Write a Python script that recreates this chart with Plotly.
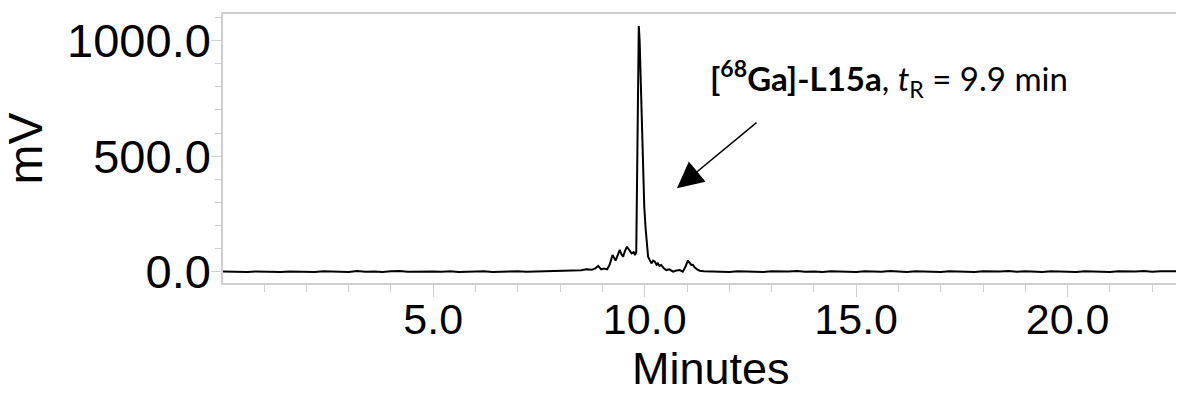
import plotly.graph_objects as go

# Retention time (minutes)
time_min = [
    0.0, 0.2, 0.4, 0.6, 0.8, 1.0, 1.2, 1.4, 1.6, 1.8, 2.0, 2.2, 2.4, 2.6, 2.8,
    3.0, 3.2, 3.4, 3.6, 3.8, 4.0, 4.2, 4.4, 4.6, 4.8, 5.0, 5.2, 5.4, 5.6, 5.8,
    6.0, 6.2, 6.4, 6.6, 6.8, 7.0, 7.2, 7.4, 7.6, 7.8, 8.0, 8.2,
    8.35, 8.5, 8.62, 8.75, 8.83, 8.90, 8.97, 9.04, 9.11, 9.17, 9.24, 9.31, 9.36,
    9.41, 9.45, 9.49, 9.53, 9.58, 9.63, 9.69, 9.74, 9.77, 9.80, 9.82, 9.84, 9.86,
    9.88, 9.90, 9.93, 9.96, 9.99, 10.02, 10.05, 10.08, 10.12, 10.16, 10.20, 10.24,
    10.28, 10.31, 10.35, 10.39, 10.45, 10.51, 10.58, 10.67, 10.75, 10.83, 10.90,
    10.96, 11.02, 11.06, 11.10, 11.14, 11.18, 11.24, 11.30, 11.4,
    11.6, 11.8, 12.0, 12.2, 12.4, 12.6, 12.8, 13.0, 13.2, 13.4, 13.6, 13.8, 14.0,
    14.2, 14.4, 14.6, 14.8, 15.0, 15.2, 15.4, 15.6, 15.8, 16.0, 16.2, 16.4, 16.6,
    16.8, 17.0, 17.2, 17.4, 17.6, 17.8, 18.0, 18.2, 18.4, 18.6, 18.8, 19.0, 19.2,
    19.4, 19.6, 19.8, 20.0, 20.2, 20.4, 20.6, 20.8, 21.0, 21.2, 21.4, 21.6, 21.8,
    22.0, 22.2, 22.4, 22.6, 22.8,
]

# Detector signal (mV)
signal_mv = [
    1, 0, 2, -1, 1, 0, 2, -1, 1, 0, 1, -1, 2, 0, 1,
    -1, 3, 0, 1, -1, 2, 3, 0, 1, -1, 1, 0, 2, -1, 1,
    0, 2, -1, 1, 0, 2, 0, 1, -1, 2, 1, 3,
    4, 6, 10, 8, 14, 25, 10, 14, 10, 30, 72, 48, 70,
    94, 75, 65, 88, 108, 95, 79, 84, 72, 85, 350, 800, 1063,
    1000, 850, 650, 450, 280, 190, 130, 65, 50, 36, 48, 43,
    30, 36, 25, 29, 15, 7, 10, 0, 5, 7, 0,
    20, 48, 38, 29, 30, 19, 10, 4, 2,
    0, 1, -1, 2, 0, 1, -1, 2, 0, 1, 3, 0, 1,
    -1, 2, 0, 1, -1, 2, 1, 0, 3, 1, -1, 2, 0,
    1, -1, 2, 0, 1, -1, 2, 0, 1, 3, 0, 2, 1,
    -1, 2, 0, 1, -1, 2, 0, 1, -1, 2, 0, 1, 3,
    0, 2, 1, -1, 1,
]

x_ticks = [5, 10, 15, 20]
x_tick_labels = ["5.0", "10.0", "15.0", "20.0"]
y_ticks = [0, 500, 1000]
y_tick_labels = ["0.0", "500.0", "1000.0"]

AX_COLOR = "#cfcfcf"
FONT = "Liberation Sans, Arial, sans-serif"

fig = go.Figure()
fig.add_trace(go.Scatter(
    x=time_min, y=signal_mv, mode="lines",
    line=dict(color="black", width=2),
    showlegend=False, hoverinfo="skip",
))

# the page body adds an 8px margin; the figure is sized so the page does not scroll
fig.update_layout(
    template="none",
    width=1176, height=385,
    margin=dict(l=215, r=0, t=6, b=110, pad=0, autoexpand=False),
    paper_bgcolor="white", plot_bgcolor="white",
    xaxis=dict(
        range=[0.03, 22.75], automargin=False,
        tickvals=x_ticks, ticktext=x_tick_labels,
        ticks="outside", ticklen=12, tickwidth=1, tickcolor=AX_COLOR,
        minor=dict(dtick=1, tick0=0, ticks="outside", ticklen=7, tickcolor=AX_COLOR, tickwidth=1, showgrid=False),
        showline=True, linecolor=AX_COLOR, linewidth=1.5, mirror=True,
        showgrid=False, zeroline=False,
        tickfont=dict(family=FONT, size=43, color="black"),
        ticklabelstandoff=-14,
    ),
    yaxis=dict(
        range=[-49, 1115], automargin=False,
        tickvals=y_ticks, ticktext=y_tick_labels,
        ticks="outside", ticklen=10, tickwidth=1, tickcolor=AX_COLOR,
        minor=dict(dtick=100, tick0=0, ticks="outside", ticklen=6, tickcolor=AX_COLOR, tickwidth=1, showgrid=False),
        showline=True, linecolor=AX_COLOR, linewidth=1.5, mirror=False,
        showgrid=False, zeroline=False,
        tickfont=dict(family=FONT, size=47, color="black"),
        ticklabelstandoff=-9,
    ),
)

annotations = [
    dict(text="mV", xref="paper", yref="paper", x=-0.2060, y=0.5,
         xanchor="center", yanchor="middle", textangle=-90, showarrow=False,
         font=dict(family=FONT, size=48, color="black")),
    dict(text="Minutes", xref="paper", yref="paper", x=0.5078, y=-0.316,
         xanchor="center", yanchor="middle", showarrow=False,
         font=dict(family=FONT, size=45, color="black")),
    dict(text="<b>[<sup>68</sup>Ga]-L15a</b>, <i>t</i><sub>R</sub> = 9.9 min",
         xref="paper", yref="paper", x=0.5047, y=0.762,
         xanchor="left", yanchor="middle", showarrow=False,
         font=dict(family="Lato, Carlito, sans-serif", size=33, color="black")),
    dict(text="", xref="paper", yref="paper", x=0.4724, y=0.352,
         showarrow=True, ax=81, ay=-67, axref="pixel", ayref="pixel",
         arrowhead=2, arrowsize=3.5, arrowwidth=1.5, arrowcolor="black"),
]
fig.update_layout(annotations=annotations)

fig.write_html("out.html")
